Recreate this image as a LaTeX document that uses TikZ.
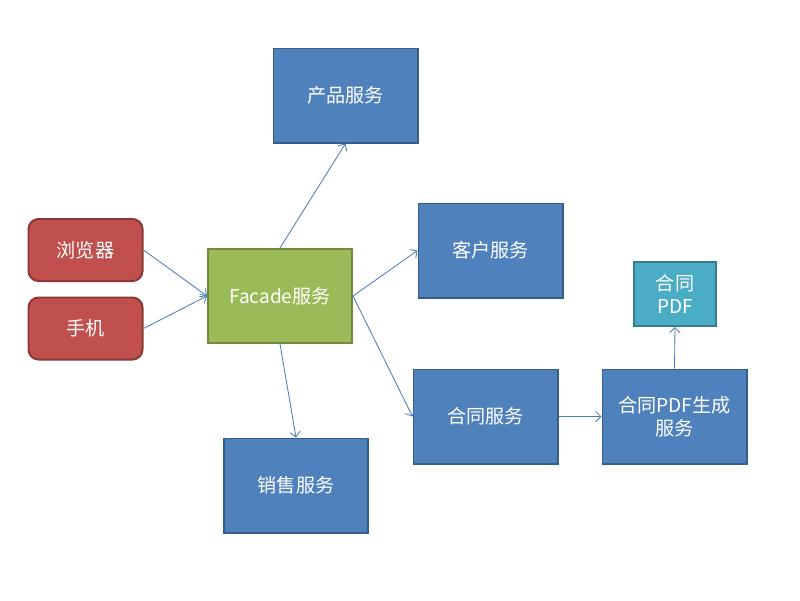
\documentclass[tikz,border=0pt]{standalone}
\usepackage{fontspec}
\setmainfont{Noto Sans CJK SC}
\usetikzlibrary{positioning,arrows.meta}
\definecolor{svcblue}{HTML}{4F81BD}
\definecolor{svcblueline}{HTML}{385D8A}
\definecolor{clientred}{HTML}{C0504D}
\definecolor{clientredline}{HTML}{8C3836}
\definecolor{facadegreen}{HTML}{9BBB59}
\definecolor{facadegreenline}{HTML}{71893F}
\definecolor{pdfteal}{HTML}{4BACC6}
\definecolor{pdftealline}{HTML}{357D91}
\definecolor{linkblue}{HTML}{4A7EBB}
\tikzset{
  box/.style={draw, line width=1.4pt, text=white, align=center,
    font=\fontsize{13.6pt}{16.5pt}\selectfont, inner sep=2pt},
  service/.style={box, fill=svcblue, draw=svcblueline,
    minimum width=3.6cm, minimum height=2.35cm},
  client/.style={box, fill=clientred, draw=clientredline, rounded corners=0.25cm,
    minimum width=2.85cm, minimum height=1.55cm},
  facade/.style={box, fill=facadegreen, draw=facadegreenline,
    minimum width=3.6cm, minimum height=2.35cm},
  doc/.style={box, fill=pdfteal, draw=pdftealline,
    minimum width=2.05cm, minimum height=1.6cm},
  link/.style={draw=linkblue, line width=0.6pt,
    -{Straight Barb[length=1.3mm,width=2.6mm]}}
}
\begin{document}
\begin{tikzpicture}[x=0.025cm,y=-0.025cm]
\useasboundingbox[fill=white] (0,0) rectangle (800,600);
% clients
\node[client] (browser) at (85.5,250) {浏览器};
\node[client] (phone) at (85.5,328.5) {手机};
% facade and services
\node[facade] (facade) at (280,296) {Facade服务};
\node[service] (product) at (345.5,95.5) {产品服务};
\node[service] (customer) at (490.5,250.5) {客户服务};
\node[service] (contract) at (485.5,416.5) {合同服务};
\node[service] (sales) at (296,485.5) {销售服务};
\node[service] (pdfgen) at (674.5,416.5) {合同PDF生成\\服务};
\node[doc] (pdf) at (675,294) {合同\\PDF};
% links
\draw[link] (browser.east) -- (facade.west);
\draw[link] (phone.east) -- (facade.west);
\draw[link] (facade.north) -- (product.south);
\draw[link] (facade.east) -- (customer.west);
\draw[link] (facade.east) -- (contract.west);
\draw[link] (facade.south) -- (sales.north);
\draw[link] (contract.east) -- (pdfgen.west);
\draw[link] (pdfgen.north) -- (pdf.south);
\end{tikzpicture}
\end{document}
